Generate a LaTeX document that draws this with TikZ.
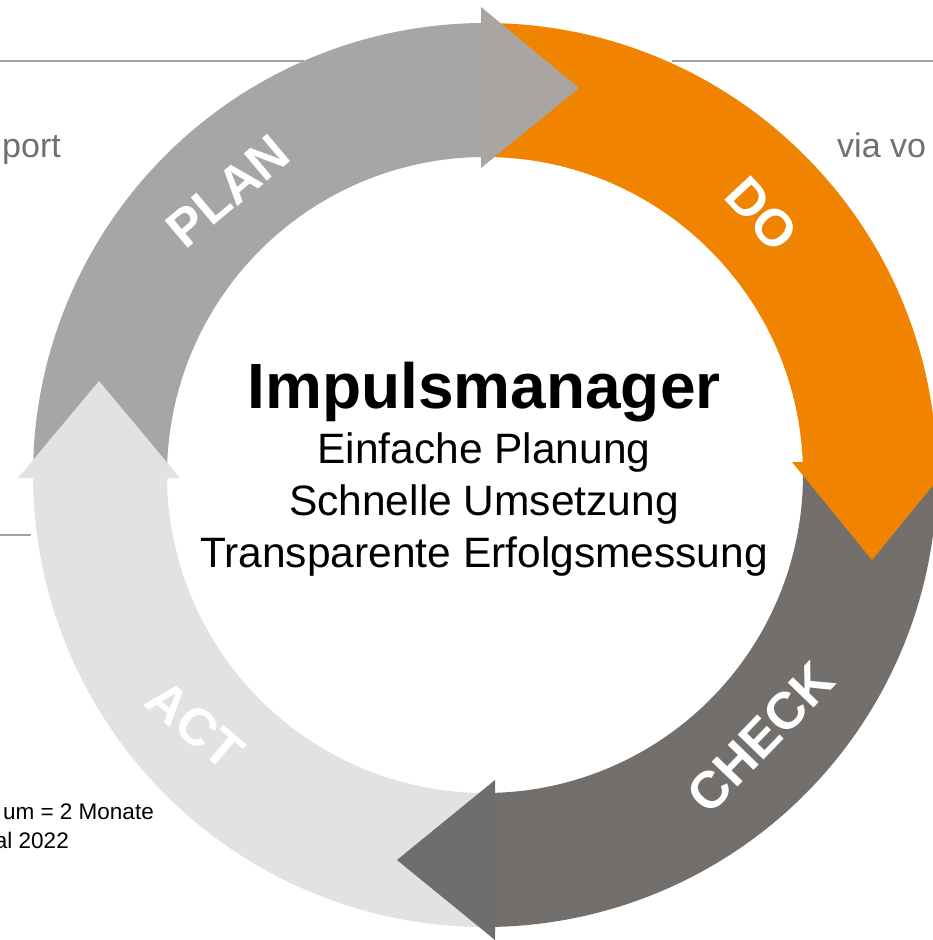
\documentclass[tikz,border=0pt]{standalone}
\usepackage{fontspec}
\setmainfont{Liberation Sans}
\definecolor{planc}{HTML}{A6A6A6}
\definecolor{planh}{HTML}{A8A5A2}
\definecolor{doc}{HTML}{F08300}
\definecolor{checkc}{HTML}{736F6C}
\definecolor{checkh}{HTML}{6D6E70}
\definecolor{actc}{HTML}{E1E2E1}
\definecolor{sidegray}{HTML}{6F7072}
\definecolor{rulegray}{HTML}{A0A0A0}
\tikzset{
  lbl/.style={text=white, inner sep=0pt, font=\fontsize{52}{52}\selectfont\bfseries},
  sidetxt/.style={text=sidegray, inner sep=0pt, anchor=base west, font=\fontsize{34}{34}\selectfont},
  smalltxt/.style={text=black, inner sep=0pt, anchor=base east, font=\fontsize{22.5}{22.5}\selectfont},
  titletxt/.style={text=black, inner sep=0pt, anchor=base, font=\fontsize{64}{64}\selectfont\bfseries},
  subtxt/.style={text=black, inner sep=0pt, anchor=base, font=\fontsize{42.5}{42.5}\selectfont},
  rulel/.style={draw=rulegray, line width=1.5pt}
}
\begin{document}
\begin{tikzpicture}[x=1pt,y=-1pt]
\useasboundingbox[fill=white] (0,0) rectangle (933,940);
% rules
\coordinate (r1a) at (0,61); \coordinate (r1b) at (304,61);
\coordinate (r2a) at (672,61); \coordinate (r2b) at (933,61);
\coordinate (r3a) at (0,535); \coordinate (r3b) at (31,535);
\draw[rulel] (r1a) -- (r1b);
\draw[rulel] (r2a) -- (r2b);
\draw[rulel] (r3a) -- (r3b);
% side texts
\node[sidetxt, anchor=base east] (port) at (61,157) {port};
\node[sidetxt] (via) at (837,157) {via vo};
\node[smalltxt] (t1) at (154,819) {um = 2 Monate};
\node[smalltxt] (t2) at (69,848) {al 2022};
% ring bands
\begin{scope}[shift={(485,475)}, yscale=-1]
  \def\Ro{452}\def\Ri{318}
  \fill[planc] (181:\Ro) arc[start angle=181, end angle=90, radius=\Ro] -- (90:\Ri) arc[start angle=90, end angle=181, radius=\Ri] -- cycle;
  \fill[doc] (90.5:\Ro) arc[start angle=90.5, end angle=0.5, radius=\Ro] -- (0.5:\Ri) arc[start angle=0.5, end angle=90.5, radius=\Ri] -- cycle;
  \fill[checkc] (1.5:\Ro) arc[start angle=1.5, end angle=-89.5, radius=\Ro] -- (-89.5:\Ri) arc[start angle=-89.5, end angle=1.5, radius=\Ri] -- cycle;
  \fill[actc] (-88.8:\Ro) arc[start angle=-88.8, end angle=-179.7, radius=\Ro] -- (-179.7:\Ri) arc[start angle=-179.7, end angle=-88.8, radius=\Ri] -- cycle;
\end{scope}
% arrow heads
\fill[planh] (481,7) -- (579,88) -- (481,168) -- cycle;
\fill[doc] (792,462) -- (952,462) -- (872,560) -- cycle;
\fill[checkh] (495,780) -- (495,940) -- (397,860) -- cycle;
\fill[actc] (18,478) -- (180,478) -- (99,381) -- cycle;
% labels
\node[lbl, rotate=40] (plan) at (228,191) {PLAN};
\node[lbl, rotate=-47] (do) at (762,214) {DO};
\node[lbl, rotate=46] (check) at (761,738) {CHECK};
\node[lbl, rotate=-40] (act) at (195,725) {ACT};
% centre text
\node[titletxt] (title) at (484,408) {Impulsmanager};
\node[subtxt] (s1) at (484,463) {Einfache Planung};
\node[subtxt] (s2) at (484,515) {Schnelle Umsetzung};
\node[subtxt] (s3) at (484,567) {Transparente Erfolgsmessung};
\end{tikzpicture}
\end{document}
